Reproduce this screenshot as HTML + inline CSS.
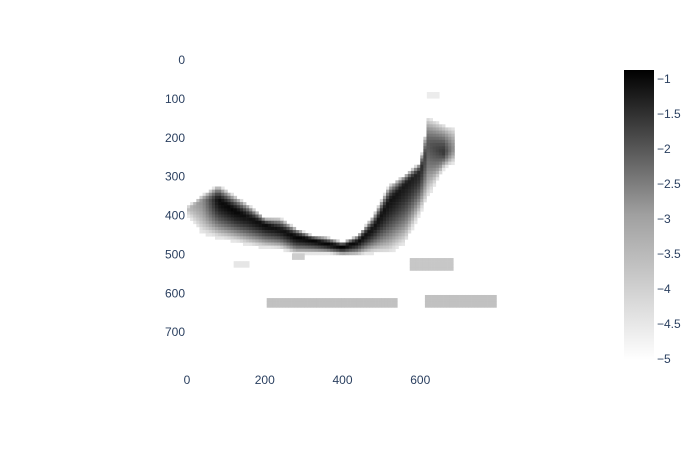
<!DOCTYPE html>
<html><head><meta charset="utf-8"><style>
body{margin:0;background:#fff}
svg text{font-family:"Liberation Sans",sans-serif;font-size:12px;fill:#2a3f5f}
</style></head><body>
<svg id="chart" width="700" height="450" xmlns="http://www.w3.org/2000/svg">
<defs><linearGradient id="cbg" x1="0" y1="1" x2="0" y2="0">
<stop offset="0" stop-color="#ffffff"/><stop offset="0.5" stop-color="#a0a0a0"/><stop offset="1" stop-color="#000000"/></linearGradient></defs>
<g id="cells"></g>
<g id="xaxis"></g>
<g id="yaxis"></g>
<g id="colorbar">
<rect x="624" y="70" width="30" height="290" fill="url(#cbg)"/>
</g>
</svg>
<script>
// main band columns (data coords)
const colX      = [0,   40,  80,  120, 160, 200, 240, 280, 320, 360, 400, 440, 480, 520, 560, 600, 620, 660, 690];
const colTop    = [381, 350, 324, 350, 376, 409, 409, 435, 453, 458, 471, 453, 401, 324, 298, 265, 152, 170, 180];
const colCenter = [388, 365, 363, 389, 409, 427, 440, 458, 466, 476, 484, 471, 435, 368, 324, 291, 222, 240, 230];
const colBottom = [396, 445, 458, 466, 476, 483, 486, 500, 499, 499, 504, 504, 496, 496, 471, 394, 350, 281, 262];
const colPeak   = [-4.0,-3.2,-1.1,-1.0,-1.2,-1.1,-1.2,-1.0,-1.0,-1.0,-0.9,-1.1,-1.2,-1.2,-1.3,-1.5,-2.3,-1.8,-3.5];
// detached patches
const patchX0  = [573, 205, 612, 617, 120, 270];
const patchX1  = [684, 540, 792, 643, 160, 300];
const patchY0  = [512, 615, 607, 85,  520, 500];
const patchY1  = [538, 638, 638, 100, 530, 512];
const patchVal = [-4.1,-4.0,-4.0,-4.7,-4.6,-4.2];
const xTicks = [0,200,400,600];
const yTicks = [0,100,200,300,400,500,600,700];
const cTicks = [-1,-1.5,-2,-2.5,-3,-3.5,-4,-4.5,-5];

const NS="http://www.w3.org/2000/svg";
const sc=311/800;
const X=v=>187+v*sc, Y=v=>59+v*sc;
const CY=v=>78+(-1-v)*(280/4);
function color(v){let t=(v+5)/4.1;t=Math.max(0,Math.min(1,t));const g=Math.round(255*(1-t));return `rgb(${g},${g},${g})`;}
function lerp(arr,x){
  for(let i=0;i<colX.length-1;i++){if(x>=colX[i]&&x<=colX[i+1]){const f=(x-colX[i])/(colX[i+1]-colX[i]);return arr[i]+f*(arr[i+1]-arr[i]);}}
  return null;
}
const cells=document.getElementById('cells');
const cs=8;
function cell(x,y,v){
  const r=document.createElementNS(NS,'rect');
  r.setAttribute('x',X(x));r.setAttribute('y',Y(y));
  r.setAttribute('width',cs*sc+0.3);r.setAttribute('height',cs*sc+0.3);
  r.setAttribute('fill',color(v));
  
  
  cells.appendChild(r);
}
for(let x=colX[0];x<colX[colX.length-1];x+=cs){
  const xc=x+cs/2;
  const t=lerp(colTop,xc),c=lerp(colCenter,xc),b=lerp(colBottom,xc),p=lerp(colPeak,xc);
  if(t===null)continue;
  for(let y=Math.floor(t/cs)*cs;y<b;y+=cs){
    const yc=y+cs/2; if(yc<t)continue;
    const d=yc<c?(c-yc)/Math.max(1,c-t):(yc-c)/Math.max(1,b-c);
    const v=Math.max(-4.6,p-(4.6+p)*Math.pow(Math.min(1,d),1.6));
    cell(x,y,v);
  }
}
patchX0.forEach((x0,i)=>{
  for(let x=x0;x<patchX1[i];x+=cs)for(let y=patchY0[i];y<patchY1[i];y+=cs)cell(x,y,patchVal[i]);
});
const xa=document.getElementById('xaxis');
xTicks.forEach(v=>{const t=document.createElementNS(NS,'text');t.setAttribute('x',X(v));t.setAttribute('y',384);t.setAttribute('text-anchor','middle');t.textContent=v;


xa.appendChild(t);});
const ya=document.getElementById('yaxis');
yTicks.forEach(v=>{const t=document.createElementNS(NS,'text');t.setAttribute('x',185);t.setAttribute('y',Y(v)+5);t.setAttribute('text-anchor','end');t.textContent=v;


ya.appendChild(t);});
const cb=document.getElementById('colorbar');
cTicks.forEach(v=>{const t=document.createElementNS(NS,'text');t.setAttribute('x',657);t.setAttribute('y',CY(v)+5);t.textContent=String(v).replace('-','\u2212');


cb.appendChild(t);});
</script>
</body></html>
